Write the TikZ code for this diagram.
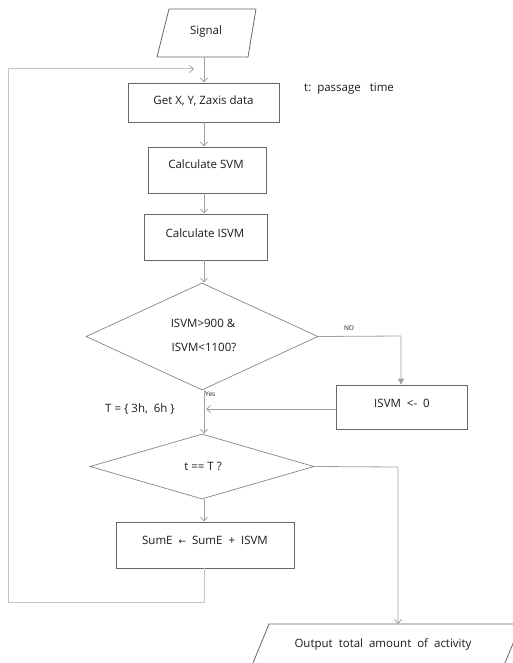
\documentclass[tikz,border=0pt]{standalone}
\usepackage{fontspec}
\setmainfont{Open Sans}
\newfontfamily\symfont{DejaVu Sans}
\usetikzlibrary{arrows.meta,shapes.geometric,calc}
\definecolor{boxc}{HTML}{666666}
\definecolor{connc}{HTML}{A0A0A0}
\definecolor{loopc}{HTML}{C4C4C4}
\definecolor{txtc}{HTML}{1A1A1A}
\tikzset{
  box/.style={draw=boxc,line width=0.8pt,rectangle,inner sep=0pt},
  dia/.style={draw=boxc!80,line width=0.7pt,diamond,inner sep=0pt},
  lbl/.style={text=txtc,font=\fontsize{11.5}{13}\selectfont,inner sep=0pt},
  small/.style={text=txtc,font=\fontsize{6.5}{7}\selectfont,inner sep=0pt},
  conn/.style={draw=connc,line width=0.8pt,-{Straight Barb[length=4pt,width=7pt]}},
  connf/.style={draw=connc,line width=0.8pt,-{Triangle[length=6pt,width=6pt]}},
  loopl/.style={draw=loopc,line width=1pt},
}
\begin{document}
\begin{tikzpicture}[x=1pt,y=-1pt]
\useasboundingbox (0,0) rectangle (513,663);
\clip (0,0) rectangle (513,663);
% Signal
\coordinate (s1) at (169,9); \coordinate (s2) at (256,9);
\coordinate (s3) at (248,57); \coordinate (s4) at (157,57);
\draw[draw=boxc,line width=0.8pt] (s1) -- (s2) -- (s3) -- (s4) -- cycle;
\node[lbl] (sigt) at (206,32) {Signal};
\coordinate (sigb) at (204,57);
% boxes
\node[box,minimum width=151pt,minimum height=39pt] (get) at (203.5,102.5) {};
\node[lbl] (gett) at (203.5,101) {Get X, Y, Zaxis data};
\node[lbl,anchor=west] (pt) at (304,89) {t:\ \ passage\ \ \ time};
\node[box,minimum width=118pt,minimum height=46pt] (svm) at (207,170) {};
\node[lbl] (svmt) at (206,164) {Calculate SVM};
\node[box,minimum width=123pt,minimum height=46pt] (isvm) at (205.5,237) {};
\node[lbl] (isvmt) at (205,233) {Calculate ISVM};
% diamond 1
\node[dia,minimum width=232pt,minimum height=107pt] (d1) at (202,336.5) {};
\node[lbl] (d1a) at (203,323) {ISVM>900 \&};
\node[lbl] (d1b) at (204,347) {ISVM<1100?};
\node[small] (no) at (349,328) {NO};
\node[small,anchor=west] (yes) at (205,394) {Yes};
\node[box,minimum width=131pt,minimum height=44pt] (zero) at (401.5,407) {};
\node[lbl] (zerot) at (402,403) {ISVM\ \ <-\ \ 0};
\node[lbl] (tset) at (140,409) {T\ =\ \{\ 3h,\ \ 6h\ \}};
% diamond 2
\node[dia,minimum width=224pt,minimum height=65pt] (d2) at (202,466.5) {};
\node[lbl] (d2t) at (203,466) {t == T ?};
\node[box,minimum width=178pt,minimum height=46pt] (sum) at (205,545) {};
\node[lbl] (sumt) at (205,540) {SumE\ \ {\symfont\fontsize{9}{10}\selectfont ←}\ \ SumE\ \ +\ \ ISVM};
% output
\coordinate (o1) at (269,624); \coordinate (o2) at (521,624);
\coordinate (o3) at (505,663); \coordinate (o4) at (253,663);
\draw[draw=boxc,line width=0.8pt] (o4) -- (o1) -- (o2) -- (o3);
\node[lbl] (outt) at (383,644) {Output\ \ total\ \ amount\ \ of\ \ activity};
% connectors
\draw[conn] (sigb) -- (sigb |- get.north);
\draw[conn] (get.south -| sigb) -- (svm.north -| sigb);
\draw[conn] (svm.south -| sigb) -- (isvm.north -| sigb);
\draw[conn] (isvm.south -| sigb) -- (d1.north -| sigb);
\coordinate (nocorner) at (401,336);
\draw[connf] (d1.east) -- (nocorner) -- (nocorner |- zero.north);
\coordinate (zin) at (206,409);
\draw[conn] (zero.west |- zin) -- (zin);
\draw[conn] (d1.south -| sigb) -- (d2.north -| sigb);
\draw[conn] (d2.south -| sigb) -- (sum.north -| sigb);
\coordinate (outc) at (398,467);
\draw[conn] (d2.east) -- (outc) -- (outc |- o1);
% feedback loop
\coordinate (lb) at (204,602); \coordinate (ll) at (8,602);
\coordinate (lt) at (8,69); \coordinate (le) at (194,69);
\draw[loopl] (sum.south -| lb) -- (lb) -- (ll) -- (lt) -- (le);
\draw[conn] ($(le)+(-2,0)$) -- (le);
\end{tikzpicture}
\end{document}
